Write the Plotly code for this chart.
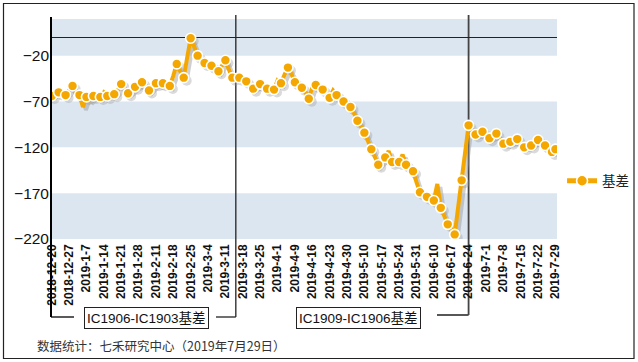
import plotly.graph_objects as go

# ---------------- data ----------------
dates = [
    "2018-12-20", "2018-12-21", "2018-12-24", "2018-12-25", "2018-12-26", "2018-12-27", "2018-12-28",
    "2019-1-2", "2019-1-3", "2019-1-4",
    "2019-1-7", "2019-1-8", "2019-1-9", "2019-1-10", "2019-1-11",
    "2019-1-14", "2019-1-15", "2019-1-16", "2019-1-17", "2019-1-18",
    "2019-1-21", "2019-1-22", "2019-1-23", "2019-1-24", "2019-1-25",
    "2019-1-28", "2019-1-29", "2019-1-30", "2019-1-31", "2019-2-1",
    "2019-2-11", "2019-2-12", "2019-2-13", "2019-2-14", "2019-2-15",
    "2019-2-18", "2019-2-19", "2019-2-20", "2019-2-21", "2019-2-22",
    "2019-2-25", "2019-2-26", "2019-2-27", "2019-2-28", "2019-3-1",
    "2019-3-4", "2019-3-5", "2019-3-6", "2019-3-7", "2019-3-8",
    "2019-3-11", "2019-3-12", "2019-3-13", "2019-3-14", "2019-3-15",
    "2019-3-18", "2019-3-19", "2019-3-20", "2019-3-21", "2019-3-22",
    "2019-3-25", "2019-3-26", "2019-3-27", "2019-3-28", "2019-3-29",
    "2019-4-1", "2019-4-2", "2019-4-3", "2019-4-4",
    "2019-4-8", "2019-4-9", "2019-4-10", "2019-4-11", "2019-4-12",
    "2019-4-15", "2019-4-16", "2019-4-17", "2019-4-18", "2019-4-19",
    "2019-4-22", "2019-4-23", "2019-4-24", "2019-4-25", "2019-4-26",
    "2019-4-29", "2019-4-30",
    "2019-5-6", "2019-5-7", "2019-5-8", "2019-5-9", "2019-5-10",
    "2019-5-13", "2019-5-14", "2019-5-15", "2019-5-16", "2019-5-17",
    "2019-5-20", "2019-5-21", "2019-5-22", "2019-5-23", "2019-5-24",
    "2019-5-27", "2019-5-28", "2019-5-29", "2019-5-30", "2019-5-31",
    "2019-6-3", "2019-6-4", "2019-6-5", "2019-6-6",
    "2019-6-10", "2019-6-11", "2019-6-12", "2019-6-13", "2019-6-14",
    "2019-6-17", "2019-6-18", "2019-6-19", "2019-6-20", "2019-6-21",
    "2019-6-24", "2019-6-25", "2019-6-26", "2019-6-27", "2019-6-28",
    "2019-7-1", "2019-7-2", "2019-7-3", "2019-7-4", "2019-7-5",
    "2019-7-8", "2019-7-9", "2019-7-10", "2019-7-11", "2019-7-12",
    "2019-7-15", "2019-7-16", "2019-7-17", "2019-7-18", "2019-7-19",
    "2019-7-22", "2019-7-23", "2019-7-24", "2019-7-25", "2019-7-26",
    "2019-7-29",
]

basis = [
    -64, -60, -60, -62, -63, -58, -53, -62, -63, -76,
    -65, -68, -64, -62, -65, -60, -64, -63, -62, -58,
    -51, -56, -61, -58, -54, -52, -49, -52, -58, -54,
    -50, -52, -50, -51, -53, -42, -29, -37, -44, -22,
    -1, -10, -20, -24, -28, -29, -31, -33, -37, -30,
    -25, -35, -44, -42, -44, -48, -48, -50, -56, -53,
    -51, -53, -56, -57, -57, -47, -50, -41, -33, -40,
    -49, -52, -55, -60, -67, -55, -52, -55, -57, -60,
    -66, -58, -63, -66, -70, -73, -76, -83, -91, -97,
    -104, -113, -122, -131, -139, -135, -131, -124, -136, -137,
    -136, -128, -139, -143, -146, -158, -169, -172, -174, -176,
    -178, -160, -186, -195, -204, -210, -215, -185, -156, -125,
    -96, -102, -106, -105, -103, -107, -110, -108, -105, -110,
    -116, -116, -114, -112, -111, -116, -120, -119, -118, -114,
    -112, -115, -118, -121, -125, -122,
]

tick_labels = dates[::5]
y_ticks = [-220, -170, -120, -70, -20]
y_range = [-220, 20]
bands = [(20, -20), (-70, -120), (-170, -220)]
roll_dates = ["2019-3-14", "2019-6-24"]
roll_labels = ["IC1906-IC1903基差", "IC1909-IC1906基差"]
series_name = "基差"
source_text = "数据统计：七禾研究中心（2019年7月29日）"

# ---------------- geometry / style ----------------
W, H = 638, 362
ML, MR, MT, MB = 51, 81, 19, 123
PW, PH = W - ML - MR, H - MT - MB
x_range = [-0.2, 145.45]
ORANGE = "#F4A700"
BAND = "#DCE6F1"
FONT = "Arial, Liberation Sans, Noto Sans CJK SC, sans-serif"

def px_x(p):
    return (p - ML) / PW

def px_y(p):
    return (H - MB - p) / PH

def data_to_paper_x(v):
    return (v - x_range[0]) / (x_range[1] - x_range[0])

dx = 3 * (x_range[1] - x_range[0]) / PW
dy = 3 * (y_range[1] - y_range[0]) / PH

mark_idx = list(range(0, len(dates), 2))
if mark_idx[-1] != len(dates) - 1:
    mark_idx.append(len(dates) - 1)
mark_x = [dates[i] for i in mark_idx]
mark_y = [basis[i] for i in mark_idx]

fig = go.Figure()

# invisible trace fixing categories on base axis
fig.add_trace(go.Scatter(x=dates, y=basis, mode="lines", line=dict(width=0, color="rgba(0,0,0,0)"),
                         hoverinfo="skip", showlegend=False, xaxis="x", yaxis="y"))
# shadow
fig.add_trace(go.Scatter(x=dates, y=basis, mode="lines", line=dict(width=4, color="rgba(150,150,150,0.45)"),
                         hoverinfo="skip", showlegend=False, xaxis="x2", yaxis="y2"))
fig.add_trace(go.Scatter(x=mark_x, y=mark_y, mode="markers",
                         marker=dict(size=10, color="rgba(150,150,150,0.35)"),
                         hoverinfo="skip", showlegend=False, xaxis="x2", yaxis="y2"))
# main
fig.add_trace(go.Scatter(x=dates, y=basis, mode="lines", line=dict(width=4, color=ORANGE),
                         showlegend=False, xaxis="x3", yaxis="y3"))
fig.add_trace(go.Scatter(x=mark_x, y=mark_y, mode="markers",
                         marker=dict(size=10, color=ORANGE, line=dict(color="white", width=1.6)),
                         showlegend=False, xaxis="x3", yaxis="y3"))
# legend entry
fig.add_trace(go.Scatter(x=[None], y=[None], mode="lines+markers", name=series_name,
                         line=dict(width=5, color=ORANGE),
                         marker=dict(size=11, color=ORANGE, line=dict(color="white", width=1.6)),
                         xaxis="x3", yaxis="y3"))

shapes = []
for a, b in bands:
    shapes.append(dict(type="rect", xref="paper", x0=0, x1=1, yref="y", y0=b, y1=a,
                       fillcolor=BAND, line=dict(width=0), layer="below"))

bottom_y = px_y(317)
top_y = px_y(15)
# left axis line extended down into the bracket
shapes.append(dict(type="line", xref="paper", x0=0, x1=0, yref="paper", y0=bottom_y, y1=px_y(17),
                   line=dict(color="black", width=2)))
shapes.append(dict(type="line", xref="paper", x0=0, x1=px_x(74), yref="paper", y0=bottom_y, y1=bottom_y,
                   line=dict(color="black", width=1.3)))
# roll lines
for k, d in enumerate(roll_dates):
    i = dates.index(d)
    xp = data_to_paper_x(i)
    yb = px_y(317 if k == 0 else 315)
    shapes.append(dict(type="line", xref="paper", x0=xp, x1=xp, yref="paper", y0=yb, y1=top_y,
                       line=dict(color="#222222" if k == 0 else "#444444", width=1.3 if k == 0 else 1.8),
                       layer="between"))
    left_px = 216 if k == 0 else 437
    shapes.append(dict(type="line", xref="paper", x0=px_x(left_px), x1=xp, yref="paper", y0=yb, y1=yb,
                       line=dict(color="#222222" if k == 0 else "#444444", width=1.3 if k == 0 else 1.8)))

# outer border
shapes.append(dict(type="rect", xref="paper", yref="paper",
                   x0=px_x(3.5), x1=px_x(634), y0=px_y(358.5), y1=px_y(3.5),
                   line=dict(color="#222222", width=1.2), fillcolor="rgba(0,0,0,0)"))

annotations = [
    dict(text=roll_labels[0], xref="paper", yref="paper", x=px_x(146), y=px_y(318),
         xanchor="center", yanchor="middle",
         showarrow=False, font=dict(family=FONT, size=13.5, color="#111"),
         bordercolor="#222", borderwidth=1, borderpad=2, bgcolor="white"),
    dict(text=roll_labels[1], xref="paper", yref="paper", x=px_x(358), y=px_y(318),
         xanchor="center", yanchor="middle",
         showarrow=False, font=dict(family=FONT, size=13.5, color="#111"),
         bordercolor="#222", borderwidth=1, borderpad=2, bgcolor="white"),
    dict(text=source_text, xref="paper", yref="paper", x=px_x(35), y=px_y(345),
         xanchor="left", yanchor="middle", showarrow=False,
         font=dict(family="Noto Sans CJK SC, sans-serif", size=12.5, color="#333")),
]

fig.update_layout(
    width=W, height=H, autosize=False,
    margin=dict(l=ML, r=MR, t=MT, b=MB, pad=0, autoexpand=False),
    paper_bgcolor="white", plot_bgcolor="white",
    font=dict(family=FONT, color="#111"),
    shapes=shapes, annotations=annotations,
    showlegend=True,
    legend=dict(x=1.01, y=px_y(181), xanchor="left", yanchor="middle",
                font=dict(family=FONT, size=13.5, color="#222"), bgcolor="rgba(0,0,0,0)",
                itemwidth=30),
    xaxis=dict(type="category", range=x_range, tickmode="array", tickvals=tick_labels, ticktext=tick_labels,
               tickangle=-90, tickfont=dict(family="Arial Black, Liberation Sans, Arial", size=12, color="#111",
                                            weight="bold"),
               automargin=False, ticklabelstandoff=2,
               showgrid=False, showline=False, zeroline=False, ticks=""),
    yaxis=dict(range=y_range, tickmode="array", tickvals=y_ticks, automargin=False,
               tickfont=dict(family=FONT, size=15.5, color="#111"), ticklabelstandoff=1,
               showgrid=False, showline=False, ticks="",
               zeroline=True, zerolinecolor="#222", zerolinewidth=1.2),
    xaxis2=dict(type="category", overlaying="x", range=[x_range[0] - dx, x_range[1] - dx], visible=False),
    yaxis2=dict(overlaying="y", range=[y_range[0] + dy, y_range[1] + dy], visible=False),
    xaxis3=dict(type="category", overlaying="x", range=x_range, visible=False),
    yaxis3=dict(overlaying="y", range=y_range, visible=False),
)

fig.write_html("out.html", config={"responsive": False, "displayModeBar": False},
               post_script="document.body.style.margin='0px';document.body.style.padding='0px';")
